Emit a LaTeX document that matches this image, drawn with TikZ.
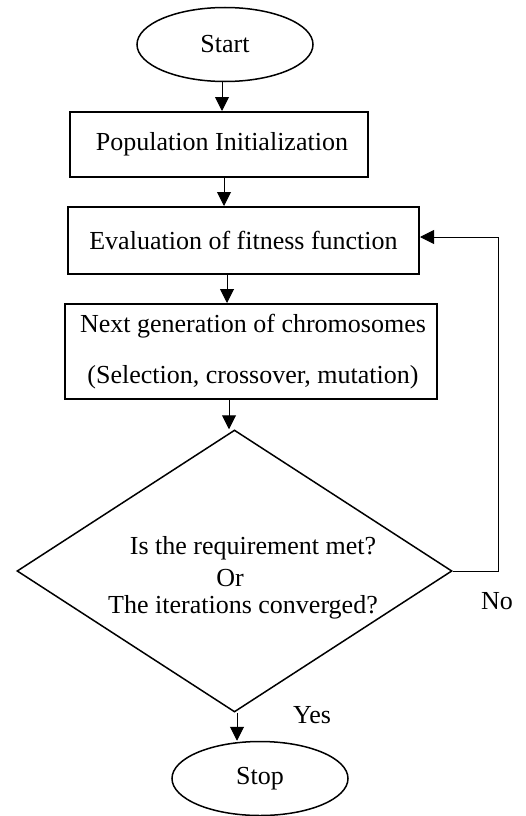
\documentclass[tikz,border=0pt]{standalone}
\usepackage{fontspec}
\setmainfont{Liberation Serif}
\usepackage{tikz}
\usetikzlibrary{arrows.meta,shapes.geometric}

\begin{document}
\begin{tikzpicture}[x=1pt, y=-1pt,
    every node/.style={font=\fontsize{26}{31}\selectfont},
    terminal/.style={draw, ellipse, line width=1.5pt, minimum width=176pt, minimum height=74pt, inner sep=0pt},
    procbox/.style={draw, rectangle, line width=2pt, inner sep=0pt},
    decision/.style={draw, diamond, line width=1.5pt, minimum width=435pt, minimum height=282pt, inner sep=0pt},
    arr/.style={-{Triangle[width=14pt,length=14pt]}, line width=1pt}]
    \useasboundingbox (0,0) rectangle (526,816);
    % Start and stop
    \node[terminal] (start) at (225,44.5) {Start};
    \node[terminal] (stop) at (260,778.5) {Stop};
    % Process boxes
    \node[procbox, minimum width=298pt, minimum height=65pt] (init) at (219,144.5) {\hspace*{6pt}Population Initialization};
    \node[procbox, minimum width=351pt, minimum height=67pt] (eval) at (243.5,240.5) {Evaluation of fitness function};
    \node[procbox, minimum width=372pt, minimum height=95pt, align=center] (nextgen) at (251,351.5)
        {\hspace*{4pt}Next generation of chromosomes\\[20pt]\hspace*{4pt}(Selection, crossover, mutation)};
    % Decision
    \node[decision] (decide) at (234.5,571) {};
    \node (q1) at (253,548) {Is the requirement met?};
    \node (q2) at (230,578) {Or};
    \node (q3) at (243,607) {The iterations converged?};
    % Arrows
    \draw[arr] ([xshift=-3pt]start.south) -- ([xshift=-3pt]start.south |- init.north);
    \draw[arr] ([xshift=5pt]init.south) -- ([xshift=5pt]init.south |- eval.north);
    \draw[arr] ([xshift=-16.5pt]eval.south) -- ([xshift=-16.5pt]eval.south |- nextgen.north);
    \draw[arr] ([xshift=-22pt]nextgen.south) -- ([xshift=-22pt]nextgen.south |- decide.north);
    \draw[arr] ([xshift=2.5pt]decide.south) -- ([xshift=2.5pt]decide.south |- stop.north);
    % Feedback loop
    \coordinate (loop) at (498,571);
    \draw[arr] (decide.east) -- (loop) |- ([yshift=3.5pt]eval.east);
    \node (lblno) at (497,601) {No};
    \node (lblyes) at (312,715) {Yes};
\end{tikzpicture}
\end{document}
